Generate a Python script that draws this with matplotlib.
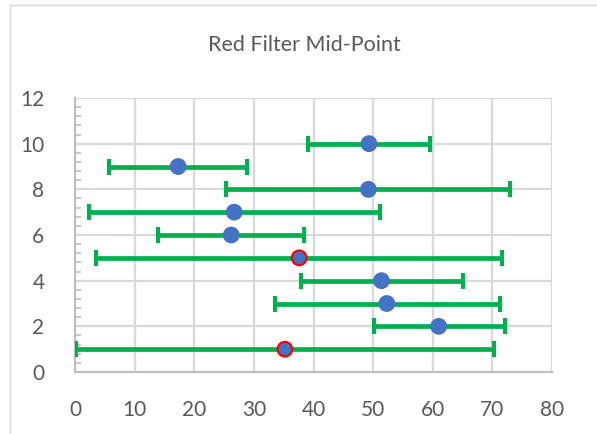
import numpy as np
import matplotlib.pyplot as plt
from matplotlib.patches import Rectangle
from matplotlib.ticker import MultipleLocator

# %% data
rows = [1, 2, 3, 4, 5, 6, 7, 8, 9, 10]
mid = [35.2, 61.0, 52.3, 51.4, 37.6, 26.2, 26.7, 49.2, 17.3, 49.3]
low = [0.1, 50.1, 33.5, 37.9, 3.6, 14.0, 2.3, 25.3, 5.7, 39.1]
high = [70.3, 72.2, 71.3, 65.0, 71.6, 38.4, 51.1, 73.0, 28.9, 59.6]
flagged = [1, 5]   # points drawn with a red outline

mid = np.array(mid)
err = [mid - np.array(low), np.array(high) - mid]

plt.rcParams['font.family'] = ['Lato', 'DejaVu Sans']
W, H = 597, 434
fig = plt.figure(figsize=(W / 100, H / 100), dpi=100)

# chart area border (only left/top visible in the crop)
fig.patches.append(Rectangle((10 / W, -0.1), 1.2, 1 - 5 / H + 0.1,
                             transform=fig.transFigure, fill=False,
                             edgecolor='#D9D9D9', linewidth=1))

ax = fig.add_axes([75 / W, (H - 372) / H, (552 - 75) / W, (372 - 98) / H])

ax.errorbar(mid, rows, xerr=err, fmt='none', ecolor='#00B050',
            elinewidth=3.4, capsize=5.8, capthick=3, zorder=3)
edge = ['#FF0000' if r in flagged else '#4472C4' for r in rows]
ax.scatter(mid, rows, s=110, color='#4472C4', edgecolors=edge,
           linewidths=1.6, zorder=4)

ax.set_xlim(0, 80)
ax.set_ylim(0, 12)
ax.xaxis.set_major_locator(MultipleLocator(10))
ax.yaxis.set_major_locator(MultipleLocator(2))
ax.yaxis.set_minor_locator(MultipleLocator(0.4))
ax.grid(True, which='major', color='#D9D9D9', linewidth=1.6, zorder=0)
ax.set_axisbelow(True)

for s in ['top', 'right']:
    ax.spines[s].set_visible(False)
for s in ['left', 'bottom']:
    ax.spines[s].set_color('#BFBFBF')
    ax.spines[s].set_linewidth(1.6)

ax.tick_params(axis='x', length=0, pad=20, labelsize=15, labelcolor='#595959')
ax.tick_params(axis='y', which='major', length=0, pad=22, labelsize=15,
               labelcolor='#595959')
ax.tick_params(axis='y', which='minor', direction='in', length=4,
               width=1.2, color='#BFBFBF')

fig.text(304 / W, 1 - 45 / H, 'Red Filter Mid-Point', ha='center',
         va='center', fontsize=15.5, color='#595959')

fig.savefig('out.png', dpi=100)
